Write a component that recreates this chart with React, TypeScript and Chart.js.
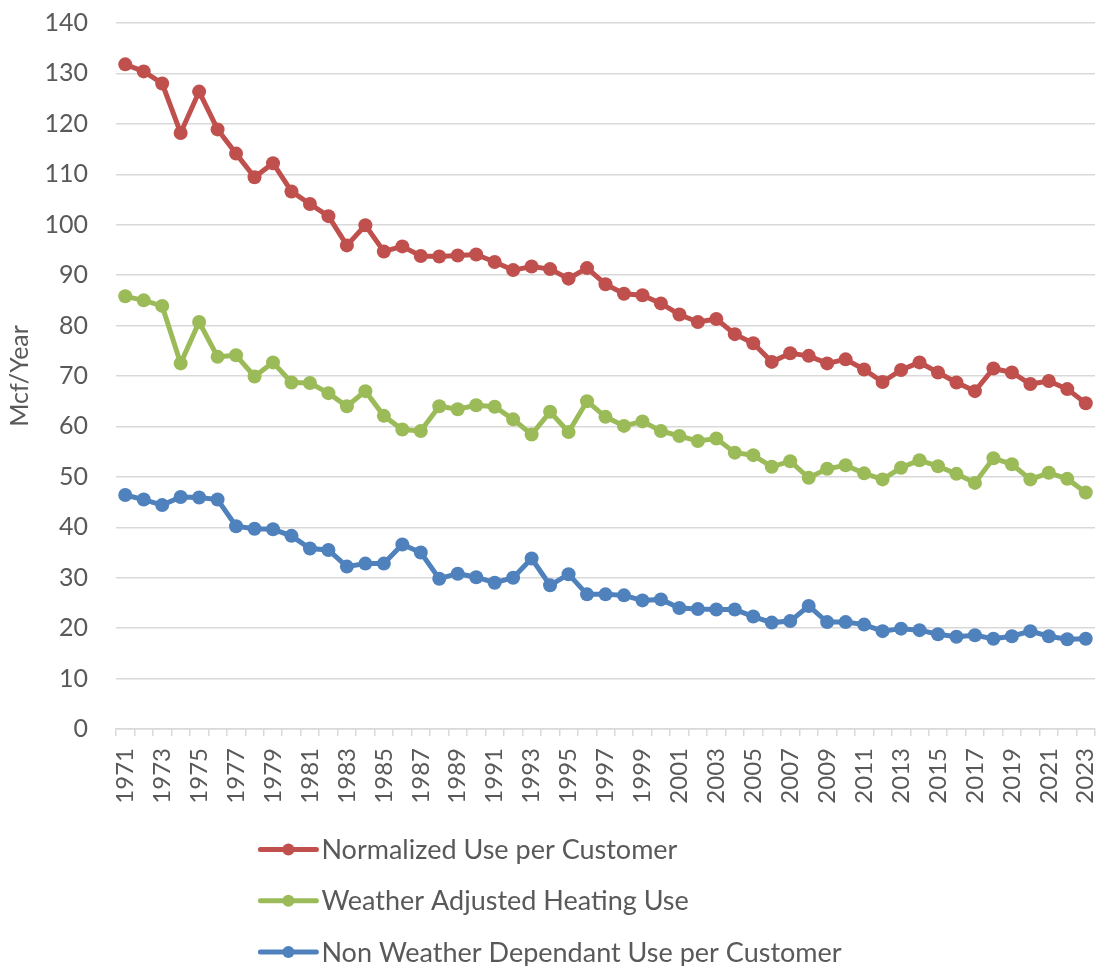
import React, { useEffect, useRef } from "react";
import { Chart, registerables } from "chart.js";

Chart.register(...registerables);

const years = [
  "1971", "1972", "1973", "1974", "1975", "1976", "1977", "1978", "1979", "1980",
  "1981", "1982", "1983", "1984", "1985", "1986", "1987", "1988", "1989", "1990",
  "1991", "1992", "1993", "1994", "1995", "1996", "1997", "1998", "1999", "2000",
  "2001", "2002", "2003", "2004", "2005", "2006", "2007", "2008", "2009", "2010",
  "2011", "2012", "2013", "2014", "2015", "2016", "2017", "2018", "2019", "2020",
  "2021", "2022", "2023",
];

const normalizedUse = [
  131.8, 130.4, 128.0, 118.2, 126.4, 118.9, 114.1, 109.4, 112.2, 106.6,
  104.1, 101.7, 95.9, 99.9, 94.7, 95.7, 93.8, 93.7, 93.9, 94.1,
  92.6, 91.0, 91.7, 91.2, 89.3, 91.4, 88.2, 86.3, 86.0, 84.4,
  82.2, 80.7, 81.3, 78.3, 76.5, 72.8, 74.5, 74.0, 72.5, 73.3,
  71.3, 68.8, 71.2, 72.7, 70.7, 68.7, 67.0, 71.5, 70.7, 68.4,
  69.0, 67.4, 64.6,
];

const heatingUse = [
  85.8, 85.0, 83.9, 72.5, 80.7, 73.8, 74.1, 69.9, 72.7, 68.7,
  68.6, 66.6, 64.0, 67.0, 62.1, 59.4, 59.1, 64.0, 63.4, 64.2,
  63.9, 61.4, 58.4, 62.9, 58.9, 65.0, 61.9, 60.1, 61.0, 59.1,
  58.1, 57.1, 57.6, 54.8, 54.3, 52.0, 53.1, 49.8, 51.6, 52.3,
  50.7, 49.5, 51.8, 53.3, 52.1, 50.6, 48.8, 53.7, 52.5, 49.5,
  50.8, 49.6, 46.9,
];

const nonWeatherUse = [
  46.4, 45.5, 44.4, 46.0, 45.9, 45.5, 40.2, 39.7, 39.6, 38.3,
  35.8, 35.5, 32.2, 32.8, 32.8, 36.6, 35.0, 29.8, 30.8, 30.1,
  29.0, 30.0, 33.8, 28.5, 30.7, 26.7, 26.7, 26.5, 25.5, 25.7,
  24.0, 23.8, 23.7, 23.7, 22.3, 21.1, 21.4, 24.4, 21.2, 21.2,
  20.7, 19.4, 19.9, 19.6, 18.8, 18.3, 18.6, 17.9, 18.4, 19.4,
  18.4, 17.8, 17.9,
];

const seriesNames = [
  "Normalized Use per Customer",
  "Weather Adjusted Heating Use",
  "Non Weather Dependant Use per Customer",
];
const seriesColors = ["#C0504D", "#9BBB59", "#4F81BD"];
const yTitle = "Mcf/Year";

const FONT = "Lato, 'Open Sans', sans-serif";
const TEXT = "#595959";
const GRID = "#D9D9D9";

const legendPlugin = {
  id: "stackedLegend",
  afterDraw(chart: any) {
    const ctx = chart.ctx;
    const markerW = 56;
    const gap = 5;
    const rowH = 51.3;
    ctx.save();
    ctx.font = `27px ${FONT}`;
    let maxW = 0;
    seriesNames.forEach((n) => {
      maxW = Math.max(maxW, ctx.measureText(n).width);
    });
    const blockW = markerW + gap + maxW;
    const left = (chart.width - blockW) / 2;
    const firstY = chart.height - 14 - rowH * (seriesNames.length - 1);
    seriesNames.forEach((name, i) => {
      const y = firstY + i * rowH;
      ctx.strokeStyle = seriesColors[i];
      ctx.lineWidth = 5;
      ctx.lineCap = "round";
      ctx.beginPath();
      ctx.moveTo(left, y);
      ctx.lineTo(left + markerW, y);
      ctx.stroke();
      ctx.fillStyle = seriesColors[i];
      ctx.beginPath();
      ctx.arc(left + markerW / 2, y, 6, 0, Math.PI * 2);
      ctx.fill();
      ctx.fillStyle = TEXT;
      ctx.textBaseline = "middle";
      ctx.textAlign = "left";
      ctx.fillText(name, left + markerW + gap, y + 1);
    });
    ctx.restore();
  },
};

export default function App() {
  const canvasRef = useRef<HTMLCanvasElement | null>(null);

  useEffect(() => {
    if (!canvasRef.current) return;
    const values = [normalizedUse, heatingUse, nonWeatherUse];
    const chart = new Chart(canvasRef.current, {
      type: "line",
      data: {
        labels: years,
        datasets: values.map((v, i) => ({
          label: seriesNames[i],
          data: v,
          borderColor: seriesColors[i],
          backgroundColor: seriesColors[i],
          borderWidth: 5,
          pointRadius: 7,
          pointBorderWidth: 0,
          pointBackgroundColor: seriesColors[i],
          pointHoverRadius: 7,
          tension: 0,
          fill: false,
        })),
      },
      options: {
        responsive: true,
        maintainAspectRatio: false,
        animation: false,
        events: [],
        layout: { padding: { top: 23, right: 1, bottom: 0, left: 0 } },
        plugins: {
          legend: { display: false },
          tooltip: { enabled: false },
        },
        scales: {
          x: {
            type: "category",
            offset: true,
            grid: {
              display: true,
              drawOnChartArea: false,
              drawTicks: true,
              tickLength: 7,
              color: GRID,
              lineWidth: 1.5,
              offset: true,
            },
            border: { display: true, color: GRID, width: 1.5 },
            ticks: {
              autoSkip: false,
              maxRotation: 90,
              minRotation: 90,
              padding: 12,
              color: TEXT,
              font: { family: FONT, size: 24 },
              callback: (_v: any, i: number) => (i % 2 === 0 ? years[i] : ""),
            },
            afterFit: (scale: any) => {
              scale.height = scale.chart.height - 729;
              scale.paddingLeft = 0;
              scale.paddingRight = 0;
            },
          },
          y: {
            min: 0,
            max: 140,
            grid: { color: GRID, lineWidth: 1.5, drawTicks: false },
            border: { display: false },
            ticks: {
              stepSize: 10,
              padding: 28,
              color: TEXT,
              font: { family: FONT, size: 25 },
            },
            title: {
              display: true,
              text: yTitle,
              color: TEXT,
              font: { family: FONT, size: 25 },
              padding: { top: 5, bottom: 0 },
            },
            afterFit: (scale: any) => {
              scale.width = 116;
              scale.paddingTop = 0;
              scale.paddingBottom = 0;
            },
          },
        },
      },
      plugins: [legendPlugin],
    });
    return () => chart.destroy();
  }, []);

  return (
    <div style={{ position: "fixed", left: 0, top: 0, width: 1102, height: 966, background: "#fff" }}>
      <canvas ref={canvasRef} />
    </div>
  );
}
